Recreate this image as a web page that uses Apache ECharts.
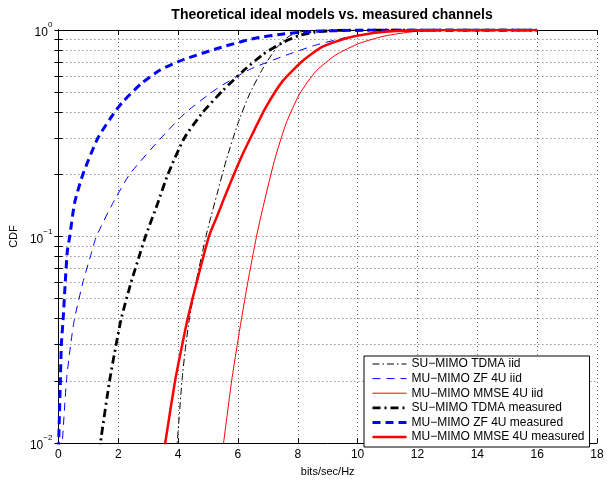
<!DOCTYPE html>
<html>
<head>
<meta charset="utf-8">
<script src="https://cdn.jsdelivr.net/npm/echarts@6/dist/echarts.min.js"></script>
<style>
  html, body { margin: 0; padding: 0; background: #fff; }
  #main { width: 607px; height: 482px; }
</style>
</head>
<body>
<div id="main"></div>
<script>
// curves: [bits/sec/Hz, CDF]
var tdmaIid = [[3.93,0.009],[3.97,0.01],[4.13,0.02],[4.26,0.03],[4.38,0.04],[4.6,0.06],[4.93,0.1],
  [5.1,0.125],[5.3,0.16],[5.62,0.237],[6.0,0.353],[6.39,0.49],[6.83,0.65],[7.28,0.816],[7.72,0.935],
  [8.1,0.98],[8.6,0.997],[9.5,1],[16,1]];
var zfIid = [[0.1,0.009],[0.13,0.01],[0.27,0.02],[0.41,0.03],[0.54,0.04],[0.82,0.06],[1.08,0.081],[1.27,0.1],
  [1.82,0.145],[2.38,0.2],[3.43,0.3],[4.27,0.4],[5.28,0.518],[6.39,0.644],[7.5,0.745],[8.61,0.846],
  [9.73,0.927],[10.8,0.975],[12,0.996],[13,1],[16,1]];
var mmseIid = [[5.48,0.009],[5.52,0.01],[5.79,0.02],[5.98,0.03],[6.12,0.04],[6.33,0.06],[6.62,0.1],
  [6.82,0.135],[7.22,0.233],[7.61,0.353],[8.06,0.49],[8.61,0.632],[9.28,0.759],[10.06,0.862],
  [10.9,0.935],[11.87,0.982],[13,0.998],[14,1],[16,1]];
var tdmaMeas = [[1.38,0.009],[1.43,0.0106],[1.71,0.02],[1.93,0.03],[2.1,0.04],[2.43,0.06],[2.71,0.081],[2.91,0.1],
  [3.32,0.145],[3.66,0.2],[4.21,0.3],[4.83,0.4],[5.5,0.51],[6.17,0.632],[6.83,0.76],[7.5,0.87],
  [8.05,0.94],[8.6,0.978],[9.3,0.995],[10.5,1],[16,1]];
var zfMeas = [[0,0.008],[0.01,0.01],[0.067,0.02],[0.1,0.03],[0.16,0.04],[0.23,0.06],[0.3,0.085],[0.38,0.1],
  [0.54,0.145],[0.82,0.2],[1.32,0.3],[1.88,0.4],[2.16,0.45],[2.77,0.55],[3.4,0.64],[4.2,0.72],
  [5.34,0.816],[6.46,0.905],[7.57,0.96],[8.67,0.986],[10,0.998],[11,1],[16,1]];
var mmseMeas = [[3.53,0.009],[3.57,0.01],[3.9,0.02],[4.14,0.03],[4.32,0.04],[4.62,0.06],[5.03,0.1],
  [5.3,0.125],[5.56,0.156],[6.06,0.233],[6.5,0.317],[6.94,0.424],[7.5,0.567],[8.17,0.71],[8.83,0.83],
  [9.72,0.92],[10.83,0.978],[12,0.998],[13,1],[16,1]];

var seriesNames = ['SU\u2212MIMO TDMA iid','MU\u2212MIMO ZF 4U iid','MU\u2212MIMO MMSE 4U iid',
  'SU\u2212MIMO TDMA measured','MU\u2212MIMO ZF 4U measured','MU\u2212MIMO MMSE 4U measured'];
var yTicks = [0.01,0.02,0.03,0.04,0.05,0.06,0.07,0.08,0.09,0.1,0.2,0.3,0.4,0.5,0.6,0.7,0.8,0.9,1];
var yLabels = [0.01,0.1,1];

var font = 'Liberation Sans';

function mkLine(name, data, color, width, type){
  return {
    name: name, type: 'line', data: data, symbol: 'none', smooth: 0.2,
    clip: true, silent: true, animation: false,
    lineStyle: { color: color, width: width, type: type, cap: 'butt' },
    itemStyle: { color: color }
  };
}

var myChart = echarts.init(document.getElementById('main'));
var option = {
  backgroundColor: '#fff',
  animation: false,
  textStyle: { fontFamily: font },
  title: {
    text: 'Theoretical ideal models vs. measured channels',
    left: 327, top: 3, textAlign: 'center',
    textStyle: { fontFamily: font, fontSize: 14, fontWeight: 'bold', color: '#000' }
  },
  grid: { left: 57, right: 10, top: 30, bottom: 30 },
  legend: {
    orient: 'vertical', left: 364, top: 356,
    data: seriesNames,
    backgroundColor: '#fff', borderColor: '#000', borderWidth: 1,
    padding: [2, 5, 4, 7],
    itemWidth: 34, itemHeight: 12, itemGap: 2.6,
    textStyle: { fontFamily: font, fontSize: 12, color: '#000' },
    lineStyle: { width: 'inherit' },
    itemStyle: { opacity: 0 },
    selectedMode: false
  },
  xAxis: [{
    type: 'value', min: 0, max: 18, interval: 2,
    name: 'bits/sec/Hz', nameLocation: 'middle', nameGap: 21,
    nameTextStyle: { fontFamily: font, fontSize: 11, color: '#000' },
    axisLine: { lineStyle: { color: '#000', width: 1 } },
    axisTick: { inside: true, length: 5, lineStyle: { color: '#000' } },
    axisLabel: { fontFamily: font, fontSize: 12, color: '#000', margin: 6 },
    splitLine: { show: true, lineStyle: { color: '#666', type: [1, 3], width: 1 } }
  }, {
    type: 'value', min: 0, max: 18, interval: 2, position: 'top',
    axisLine: { lineStyle: { color: '#000', width: 1 } },
    axisTick: { inside: true, length: 5, lineStyle: { color: '#000' } },
    axisLabel: { show: false }, splitLine: { show: false }
  }],
  yAxis: [{
    type: 'log', logBase: 10, min: 0.01, max: 1,
    name: 'CDF', nameLocation: 'middle', nameGap: 33,
    nameTextStyle: { fontFamily: font, fontSize: 11, color: '#000' },
    axisLine: { show: true, lineStyle: { color: '#000', width: 1 } },
    axisTick: { inside: true, length: 4, customValues: yTicks, lineStyle: { color: '#000' } },
    axisLabel: {
      customValues: yLabels, margin: 6, color: '#000',
      formatter: function(v){
        var e = Math.round(Math.log(v) / Math.LN10);
        return '{b|10}{e|' + (e < 0 ? '\u2212' + (-e) : e) + '}';
      },
      rich: {
        b: { fontFamily: font, fontSize: 12, color: '#000', lineHeight: 18, verticalAlign: 'bottom' },
        e: { fontFamily: font, fontSize: 8, color: '#000', lineHeight: 10, verticalAlign: 'top' }
      }
    },
    splitLine: { show: true, lineStyle: { color: '#666', type: [1, 3], width: 1 } }
  }, {
    type: 'log', logBase: 10, min: 0.01, max: 1, position: 'right',
    axisLine: { show: true, lineStyle: { color: '#000', width: 1 } },
    axisTick: { inside: true, length: 4, customValues: yTicks, lineStyle: { color: '#000' } },
    axisLabel: { show: false }, splitLine: { show: false }
  }],
  series: [
    mkLine(seriesNames[0], tdmaIid, '#000000', 1, [7, 3, 1.5, 3]),
    mkLine(seriesNames[1], zfIid, '#0000ff', 1, [8, 6]),
    mkLine(seriesNames[2], mmseIid, '#ff0000', 1, 'solid'),
    mkLine(seriesNames[3], tdmaMeas, '#000000', 2.8, [8, 4, 2, 4]),
    mkLine(seriesNames[4], zfMeas, '#0000ff', 3, [8, 5]),
    mkLine(seriesNames[5], mmseMeas, '#ff0000', 2.5, 'solid')
  ]
};
myChart.setOption(option);
</script>
</body>
</html>
